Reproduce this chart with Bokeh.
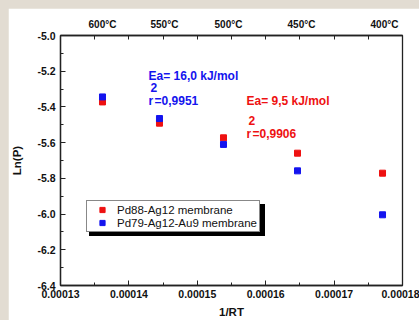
from bokeh.plotting import figure
from bokeh.models import (LinearAxis, FixedTicker, Range1d, Legend, LegendItem,
                          BasicTickFormatter, ColumnDataSource)
from bokeh.core.properties import value
from bokeh.embed import file_html
from bokeh.resources import INLINE

# ---------------- data ----------------
inv_rt = [1.3614e-4, 1.4447e-4, 1.5383e-4, 1.6465e-4, 1.7708e-4]
ln_p_pdag = [-5.372, -5.491, -5.573, -5.659, -5.771]
ln_p_pdagau = [-5.344, -5.465, -5.610, -5.758, -6.004]
series_names = ["Pd88-Ag12 membrane", "Pd79-Ag12-Au9 membrane"]

x_ticks = [0.00013, 0.00014, 0.00015, 0.00016, 0.00017, 0.00018]
x_minor = [0.000135, 0.000145, 0.000155, 0.000165, 0.000175]
y_ticks = [-6.4, -6.2, -6.0, -5.8, -5.6, -5.4, -5.2, -5.0]
y_minor = [-6.3, -6.1, -5.9, -5.7, -5.5, -5.3, -5.1]
temp_pos = [1.3614e-4, 1.4520e-4, 1.5456e-4, 1.6523e-4, 1.7737e-4]
temp_labels = ["600°C", "550°C", "500°C", "450°C", "400°C"]

ea_texts = ["Ea= 16,0 kJ/mol", "Ea= 9,5 kJ/mol"]
r2_texts = ["=0,9951", "=0,9906"]
ann_x = [1.4287e-4, 1.5719e-4]
ea_y = [-5.224, -5.364]
r2_y = [-5.364, -5.549]

RED = "#ee1111"
BLUE = "#1414ee"
FONT = "Liberation Sans"
AX = "#222222"

p = figure(width=411, height=312, output_backend="svg", toolbar_location=None,
           x_range=Range1d(0.00013, 0.00018), y_range=Range1d(-6.4, -5.0),
           min_border_left=52, min_border_right=17, min_border_top=27,
           min_border_bottom=35, background_fill_color="white",
           border_fill_color="white")
p.outline_line_color = AX
p.outline_line_width = 1.3
p.xgrid.visible = False
p.ygrid.visible = False

xa = p.xaxis[0]
xa.ticker = FixedTicker(ticks=x_ticks, minor_ticks=x_minor)
xa.formatter = BasicTickFormatter(use_scientific=False)
xa.major_label_overrides = {v: f"{v:.5f}" for v in x_ticks}
ya = p.yaxis[0]
ya.ticker = FixedTicker(ticks=y_ticks, minor_ticks=y_minor)
ya.major_label_overrides = {v: f"{v:.1f}" for v in y_ticks}

for ax in (xa, ya):
    ax.axis_line_color = AX
    ax.axis_line_width = 1.3
    ax.major_tick_line_color = AX
    ax.minor_tick_line_color = AX
    ax.major_tick_in = 5
    ax.major_tick_out = 0
    ax.minor_tick_in = 3
    ax.minor_tick_out = 0
    ax.major_label_text_font = FONT
    ax.major_label_text_font_style = "bold"
    ax.major_label_text_font_size = "10.5px"
    ax.major_label_text_color = "#111111"
    ax.axis_label_text_font = FONT
    ax.axis_label_text_font_style = "bold"
    ax.axis_label_text_font_size = "11.5px"
    ax.axis_label_text_color = "#111111"

xa.axis_label = "1/RT"
xa.major_label_standoff = 4
xa.axis_label_standoff = 5
ya.axis_label = "Ln(P)"
ya.major_label_standoff = 5
ya.axis_label_standoff = 11

# top axis with temperature labels
top = LinearAxis(ticker=FixedTicker(ticks=temp_pos, minor_ticks=x_minor + x_ticks[1:-1]))
top.major_label_overrides = {v: t for v, t in zip(temp_pos, temp_labels)}
top.axis_line_color = AX
top.axis_line_width = 1.3
top.major_tick_in = 0
top.major_tick_out = 0
top.minor_tick_in = 4
top.minor_tick_out = 0
top.minor_tick_line_color = AX
top.major_label_standoff = 6
top.major_label_text_font = FONT
top.major_label_text_font_style = "bold"
top.major_label_text_font_size = "10px"
top.major_label_text_color = "#111111"
p.add_layout(top, "above")

src = ColumnDataSource(dict(x=inv_rt, a=ln_p_pdag, b=ln_p_pdagau))
r_red = p.scatter("x", "a", source=src, marker="square", size=6,
                  fill_color=RED, line_color=RED)
r_blue = p.scatter("x", "b", source=src, marker="square", size=6,
                   fill_color=BLUE, line_color=BLUE)

cols = [BLUE, RED]
for i in range(2):
    common = dict(text_color=cols[i], text_font=value(FONT), text_font_style="bold",
                  text_font_size="12px", text_align="left", text_baseline="middle")
    p.text(x=[ann_x[i]], y=[ea_y[i]], text=[ea_texts[i]], **common)
    p.text(x=[ann_x[i]], y=[r2_y[i]], text=["r"], **common)
    p.text(x=[ann_x[i]], y=[r2_y[i]], text=["2"], x_offset=2, y_offset=-13, **common)
    p.text(x=[ann_x[i]], y=[r2_y[i]], text=[r2_texts[i]], x_offset=6, **common)

# legend shadow (blank labels, wide glyph area) then the real legend on top
shadow = Legend(items=[LegendItem(label=" ", renderers=[r_red]),
                       LegendItem(label=" ", renderers=[r_blue])],
                location=(29, 49), padding=2, spacing=0, margin=0,
                glyph_width=150, glyph_height=13, label_height=13,
                label_standoff=0, label_text_font=FONT, label_text_font_size="11.5px",
                border_line_color="black", border_line_width=1,
                background_fill_color="black", background_fill_alpha=1.0)
main = Legend(items=[LegendItem(label=series_names[0], renderers=[r_red]),
                     LegendItem(label=series_names[1], renderers=[r_blue])],
              location=(26, 53), padding=2, spacing=0, margin=0,
              glyph_width=26, glyph_height=13, label_height=13,
              label_standoff=2, label_text_font=FONT, label_text_font_size="11.5px",
              border_line_color="#111111", border_line_width=1,
              background_fill_color="white", background_fill_alpha=1.0,
              label_text_color="#111111")
p.add_layout(shadow, "center")
p.add_layout(main, "center")

html = file_html(p, INLINE)
css = ("<style>html{background:#e2dcd2 !important;margin:0 !important;}"
       "body{background:#e2dcd2 !important;margin:0 !important;"
       "padding:8px 0 0 8px !important;box-sizing:border-box;}</style></head>")
html = html.replace("</head>", css, 1)
open("out.html", "w").write(html)
